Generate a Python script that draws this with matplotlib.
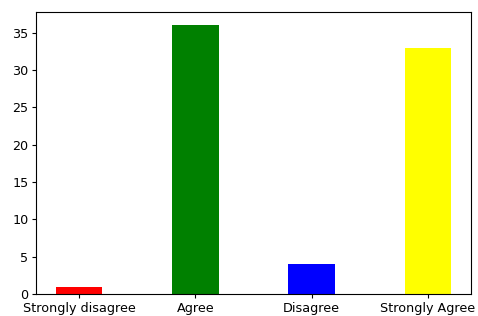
import matplotlib
matplotlib.use("Agg")
import matplotlib.pyplot as plt

categories = ["Strongly disagree", "Agree", "Disagree", "Strongly Agree"]
counts = [1, 36, 4, 33]
colors = ["red", "green", "blue", "yellow"]

fig = plt.figure(figsize=(4.78, 3.16), dpi=100)
ax = fig.add_axes([36 / 478, 22 / 316, 435 / 478, 282 / 316])
ax.bar(categories, counts, width=0.4, color=colors)
ax.set_yticks([0, 5, 10, 15, 20, 25, 30, 35])
ax.tick_params(labelsize=9.2, length=3, pad=2.5)

fig.savefig("out.png", dpi=100)
